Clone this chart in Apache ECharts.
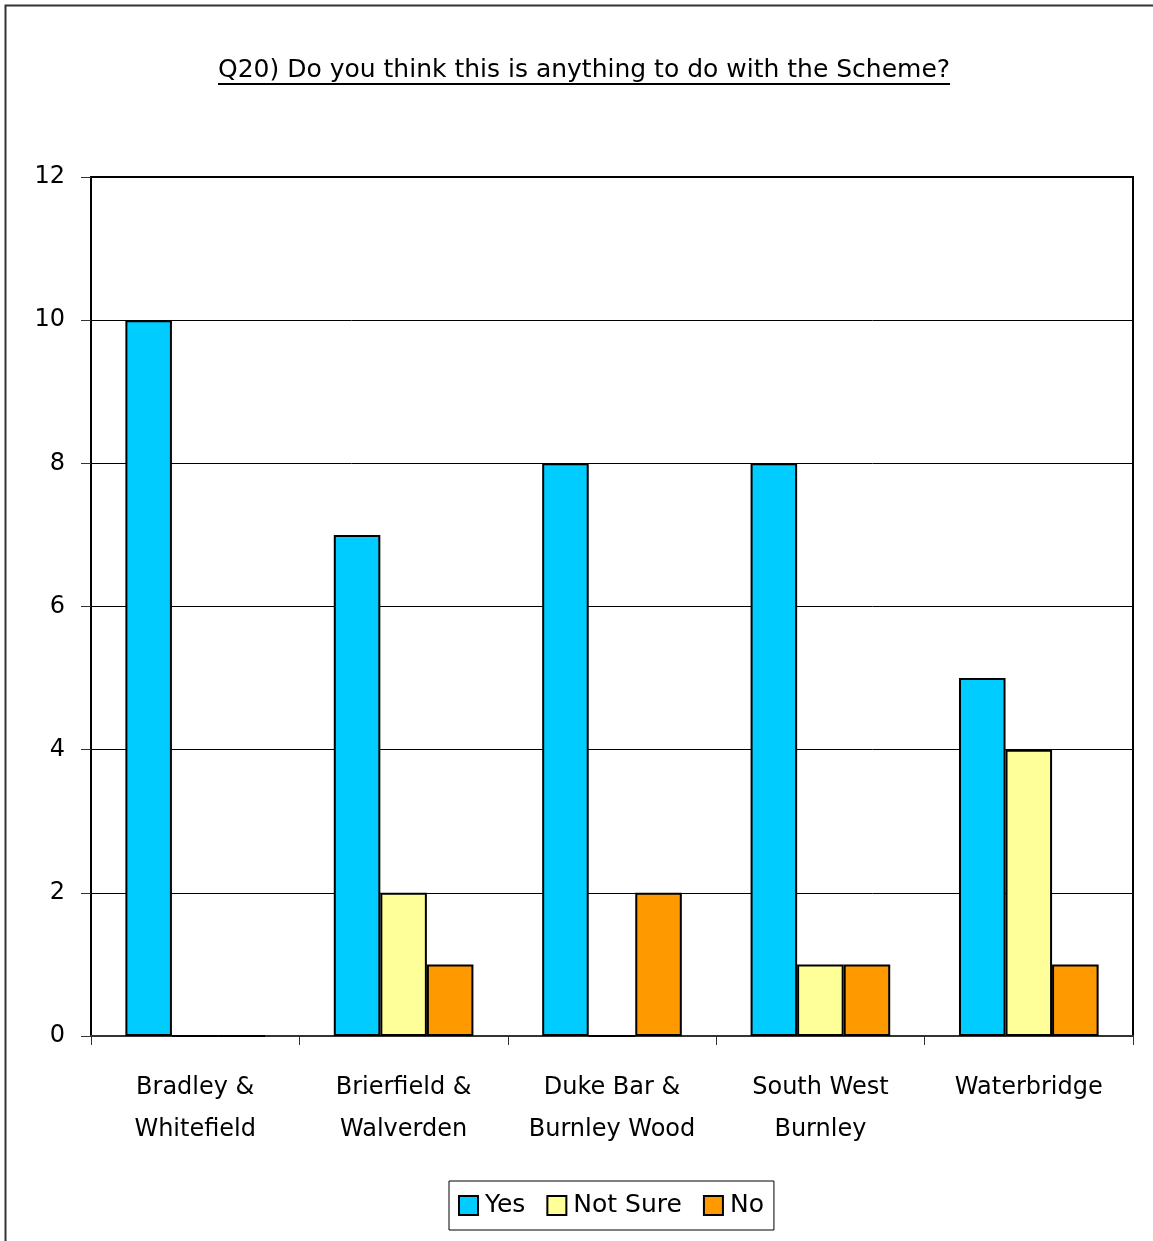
<!DOCTYPE html>
<html>
<head>
<meta charset="utf-8">
<title>Q20) Do you think this is anything to do with the Scheme?</title>
<script src="https://cdn.jsdelivr.net/npm/echarts@6/dist/echarts.min.js"></script>
<style>
  html, body { margin: 0; padding: 0; background: #ffffff; }
  #chart { width: 1153px; height: 1241px; }
</style>
</head>
<body>
<div id="chart"></div>
<script>
// Areas surveyed
const areas = [
  'Bradley &\nWhitefield',
  'Brierfield &\nWalverden',
  'Duke Bar &\nBurnley Wood',
  'South West\nBurnley',
  'Waterbridge'
];

// Number of responses per answer
const yesValues     = [10, 7, 8, 8, 5];
const notSureValues = [0, 2, 0, 1, 4];
const noValues      = [0, 1, 2, 1, 1];

// Value axis ticks
const yMin = 0;
const yMax = 12;
const yStep = 2;

const titleText = 'Q20) Do you think this is anything to do with the Scheme?';
const FONT = '"DejaVu Sans", "Noto Sans", sans-serif';
const titleSize = 25;

// measure the title so the underline spans exactly the text
function textWidth(txt, size) {
  const c = document.createElement('canvas').getContext('2d');
  c.font = size + 'px ' + FONT;
  return c.measureText(txt).width;
}
const titleW = textWidth(titleText, titleSize);
const titleCx = 584;
const titleLeft = Math.round(titleCx - titleW / 2);

const chart = echarts.init(document.getElementById('chart'), null, { renderer: 'canvas' });

const barStyle = (color) => ({
  color: color,
  borderColor: '#000000',
  borderWidth: 2
});

chart.setOption({
  backgroundColor: '#ffffff',
  animation: false,
  textStyle: { fontFamily: FONT, color: '#000000' },
  title: {
    text: titleText,
    left: titleLeft,
    top: 58,
    padding: 0,
    textStyle: {
      fontFamily: FONT,
      fontSize: titleSize,
      fontWeight: 'normal',
      color: '#000000'
    }
  },
  graphic: [
    {
      type: 'rect',
      silent: true,
      shape: { x: 5.5, y: 5.5, width: 1300, height: 1400 },
      style: { fill: null, stroke: '#333333', lineWidth: 2 }
    },
    {
      type: 'line',
      silent: true,
      shape: { x1: titleLeft, y1: 84, x2: titleLeft + titleW, y2: 84 },
      style: { stroke: '#000000', lineWidth: 2 }
    }
  ],
  legend: {
    data: ['Yes', 'Not Sure', 'No'],
    left: 449,
    top: 1181,
    orient: 'horizontal',
    icon: 'rect',
    itemWidth: 19,
    itemHeight: 19,
    itemGap: 21,
    padding: [12, 10, 12, 9],
    borderColor: '#000000',
    borderWidth: 1,
    textStyle: { fontFamily: FONT, fontSize: 25, color: '#000000', padding: [0, 0, 0, 2] },
    itemStyle: { borderColor: '#000000', borderWidth: 2 }
  },
  grid: {
    left: 91,
    top: 177,
    right: 20,
    bottom: 205,
    show: true,
    borderColor: '#000000',
    borderWidth: 2,
    backgroundColor: '#ffffff',
    containLabel: false
  },
  xAxis: {
    type: 'category',
    data: areas,
    boundaryGap: true,
    axisLine: { show: true, lineStyle: { color: '#333333', width: 2 } },
    axisTick: { show: true, alignWithLabel: false, length: 9, lineStyle: { color: '#333333', width: 1 } },
    axisLabel: {
      margin: 31,
      fontFamily: FONT,
      fontSize: 24,
      lineHeight: 42,
      color: '#000000',
      interval: 0
    },
    splitLine: { show: false }
  },
  yAxis: {
    type: 'value',
    min: yMin,
    max: yMax,
    interval: yStep,
    axisLine: { show: true, lineStyle: { color: '#000000', width: 2 } },
    axisTick: { show: true, length: 10, lineStyle: { color: '#333333', width: 1 } },
    axisLabel: {
      margin: 26,
      fontFamily: FONT,
      fontSize: 24,
      color: '#000000'
    },
    splitLine: { show: true, lineStyle: { color: '#000000', width: 1 } }
  },
  series: [
    {
      name: 'Yes',
      type: 'bar',
      data: yesValues,
      barGap: '0%',
      barCategoryGap: '33%',
      itemStyle: barStyle('#00CCFF')
    },
    {
      name: 'Not Sure',
      type: 'bar',
      data: notSureValues,
      barGap: '0%',
      barCategoryGap: '33%',
      itemStyle: barStyle('#FFFF99')
    },
    {
      name: 'No',
      type: 'bar',
      data: noValues,
      barGap: '0%',
      barCategoryGap: '33%',
      itemStyle: barStyle('#FF9900')
    }
  ]
});
</script>
</body>
</html>
